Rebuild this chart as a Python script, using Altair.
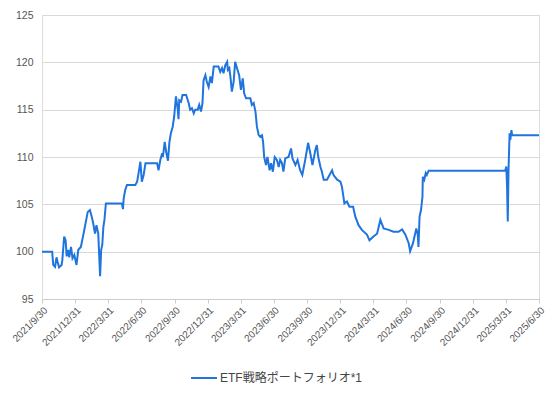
import altair as alt
import pandas as pd

SERIES = "ETF戦略ポートフォリオ*1"

DATES = [
    "2021-09-30", "2021-10-28", "2021-10-31", "2021-11-05", "2021-11-09", "2021-11-12",
    "2021-11-16", "2021-11-23", "2021-11-25", "2021-11-30", "2021-12-04", "2021-12-07",
    "2021-12-11", "2021-12-14", "2021-12-19", "2021-12-23", "2021-12-28", "2022-01-03",
    "2022-01-08", "2022-01-15", "2022-01-22", "2022-01-26", "2022-02-03", "2022-02-09",
    "2022-02-14", "2022-02-18", "2022-02-23", "2022-02-27", "2022-03-04", "2022-03-09",
    "2022-03-12", "2022-03-15", "2022-03-18", "2022-03-21", "2022-03-25", "2022-05-08",
    "2022-05-11", "2022-05-13", "2022-05-17", "2022-05-22", "2022-06-14", "2022-06-19",
    "2022-06-23", "2022-06-28", "2022-07-02", "2022-07-07", "2022-07-12", "2022-08-13",
    "2022-08-17", "2022-08-22", "2022-08-27", "2022-08-29", "2022-09-03", "2022-09-07",
    "2022-09-12", "2022-09-16", "2022-09-20", "2022-09-25", "2022-09-29", "2022-10-04",
    "2022-10-09", "2022-10-11", "2022-10-13", "2022-10-18", "2022-10-22", "2022-11-01",
    "2022-11-08", "2022-11-12", "2022-11-17", "2022-11-22", "2022-11-26", "2022-12-03",
    "2022-12-07", "2022-12-12", "2022-12-16", "2022-12-19", "2022-12-24", "2022-12-28",
    "2023-01-02", "2023-01-07", "2023-01-11", "2023-01-16", "2023-01-29", "2023-02-03",
    "2023-02-08", "2023-02-12", "2023-02-17", "2023-02-22", "2023-02-24", "2023-02-28",
    "2023-03-03", "2023-03-07", "2023-03-12", "2023-03-16", "2023-03-21", "2023-03-27",
    "2023-04-01", "2023-04-06", "2023-04-10", "2023-04-15", "2023-04-27", "2023-05-01",
    "2023-05-06", "2023-05-11", "2023-05-15", "2023-05-20", "2023-05-24", "2023-05-29",
    "2023-06-01", "2023-06-04", "2023-06-09", "2023-06-13", "2023-06-19", "2023-06-23",
    "2023-06-28", "2023-07-03", "2023-07-09", "2023-07-14", "2023-07-18", "2023-07-23",
    "2023-07-27", "2023-08-01", "2023-08-10", "2023-08-17", "2023-08-21", "2023-08-29",
    "2023-09-04", "2023-09-11", "2023-09-17", "2023-09-25", "2023-10-03", "2023-10-09",
    "2023-10-15", "2023-10-23", "2023-10-27", "2023-10-31", "2023-11-06", "2023-11-10",
    "2023-11-15", "2023-11-24", "2023-12-08", "2023-12-12", "2023-12-22", "2023-12-31",
    "2024-01-04", "2024-01-11", "2024-01-18", "2024-01-25", "2024-02-04", "2024-02-10",
    "2024-02-19", "2024-02-28", "2024-03-13", "2024-03-20", "2024-03-31", "2024-04-10",
    "2024-04-19", "2024-04-28", "2024-05-12", "2024-05-25", "2024-06-08", "2024-06-18",
    "2024-06-27", "2024-07-06", "2024-07-10", "2024-07-18", "2024-07-27", "2024-07-31",
    "2024-08-02", "2024-08-05", "2024-08-09", "2024-08-13", "2024-08-14", "2024-08-18",
    "2024-08-22", "2024-08-25", "2024-08-30", "2025-03-29", "2025-04-01", "2025-04-03",
    "2025-04-05", "2025-04-07", "2025-04-10", "2025-04-12", "2025-04-15", "2025-04-17",
    "2025-06-30",
]

VALUES = [
    100.0, 100.0, 98.6, 98.4, 99.4, 98.9,
    98.35, 98.6, 99.1, 101.6, 101.2, 99.5,
    100.2, 99.4, 100.5, 99.3, 99.65, 98.6,
    100.2, 100.5, 101.8, 102.6, 104.2, 104.4,
    103.7, 103.0, 101.9, 102.8, 101.9, 97.4,
    100.2, 100.7, 102.6, 103.35, 105.1, 105.1,
    104.5, 105.6, 106.5, 107.05, 107.05, 107.4,
    108.3, 109.5, 107.4, 108.1, 109.35, 109.35,
    108.6, 109.7, 110.4, 110.0, 111.6, 110.55,
    109.6, 111.6, 112.5, 113.2, 114.25, 116.4,
    115.0, 114.0, 116.0, 115.85, 116.55, 116.55,
    115.7, 115.0, 115.15, 114.6, 115.0, 115.0,
    115.5, 114.8, 115.7, 118.1, 118.65, 117.95,
    117.4, 118.5, 117.8, 119.55, 119.55, 119.0,
    119.4, 118.85, 119.7, 120.05, 119.2, 119.4,
    118.5, 116.9, 117.95, 120.05, 119.4, 118.65,
    117.1, 118.3, 116.7, 116.2, 116.2, 115.5,
    115.7, 114.8, 113.2, 112.3, 112.15, 112.3,
    111.6, 110.0, 109.15, 110.0, 108.6, 109.35,
    108.45, 110.0, 109.7, 108.95, 109.7, 109.35,
    108.45, 109.85, 110.0, 110.9, 109.85, 109.15,
    109.7, 108.6, 108.1, 109.7, 111.5, 110.4,
    109.15, 110.75, 111.25, 110.0, 108.95, 108.45,
    107.6, 107.6, 108.6, 108.1, 107.6, 107.4,
    106.9, 105.1, 105.3, 104.75, 104.75, 103.7,
    102.8, 102.3, 101.8, 101.2, 101.6, 101.9,
    103.35, 102.45, 102.3, 102.1, 102.1, 102.35,
    101.8, 100.9, 100.05, 100.9, 102.45, 101.8,
    100.5, 103.7, 104.4, 105.8, 107.9, 107.6,
    108.3, 108.1, 108.55, 108.55, 109.0, 106.9,
    103.2, 108.6, 112.5, 111.8, 112.85, 112.3,
    112.3,
]

TICK_DATES = [
    (2021, 9, 30), (2021, 12, 31), (2022, 3, 31), (2022, 6, 30), (2022, 9, 30),
    (2022, 12, 31), (2023, 3, 31), (2023, 6, 30), (2023, 9, 30), (2023, 12, 31),
    (2024, 3, 31), (2024, 6, 30), (2024, 9, 30), (2024, 12, 31), (2025, 3, 31),
    (2025, 6, 30),
]
Y_TICKS = [95, 100, 105, 110, 115, 120, 125]

LINE_COLOR = "#1f74dd"
FONT = "Liberation Sans, Noto Sans CJK JP, sans-serif"

df = pd.DataFrame({"date": DATES, "value": VALUES, "series": SERIES})

tick_vals = [alt.DateTime(year=y, month=m, date=d, utc=True) for (y, m, d) in TICK_DATES]

chart = (
    alt.Chart(df)
    .mark_line(strokeWidth=2, interpolate="linear")
    .encode(
        x=alt.X(
            "date:T",
            scale=alt.Scale(
                type="utc",
                domain=[
                    alt.DateTime(year=2021, month=9, date=30, utc=True),
                    alt.DateTime(year=2025, month=6, date=30, utc=True),
                ],
                nice=False,
            ),
            axis=alt.Axis(
                title=None,
                values=tick_vals,
                format="%Y/%-m/%-d",
                labelAngle=-45,
                labelAlign="right",
                labelBaseline="top",
                labelFontSize=10,
                labelColor="#555555",
                labelFont=FONT,
                labelPadding=2,
                labelOverlap=False,
                labelFlush=False,
                grid=False,
                domainColor="#cccccc",
                tickColor="#cccccc",
                tickSize=4,
            ),
        ),
        y=alt.Y(
            "value:Q",
            scale=alt.Scale(domain=[95, 125], nice=False, zero=False),
            axis=alt.Axis(
                title=None,
                values=Y_TICKS,
                labelFontSize=10.5,
                labelColor="#555555",
                labelFont=FONT,
                labelPadding=9,
                ticks=False,
                domain=False,
                gridColor="#d9d9d9",
                gridWidth=1,
            ),
        ),
        color=alt.Color(
            "series:N",
            scale=alt.Scale(domain=[SERIES], range=[LINE_COLOR]),
            legend=alt.Legend(
                title=None,
                orient="none",
                legendX=148,
                legendY=349,
                symbolType="stroke",
                symbolSize=676,
                symbolStrokeWidth=2,
                labelFontSize=12,
                labelColor="#444444",
                labelFont=FONT,
                labelOffset=2,
                padding=0,
            ),
        ),
    )
    .properties(
        width=497,
        height=284,
        autosize=alt.AutoSizeParams(type="none"),
        padding={"left": 34, "top": 7, "right": 9, "bottom": 87},
    )
    .configure_view(stroke=None)
    .configure(background="white")
)

chart.save("out.html", embed_options={"renderer": "svg", "actions": False})
